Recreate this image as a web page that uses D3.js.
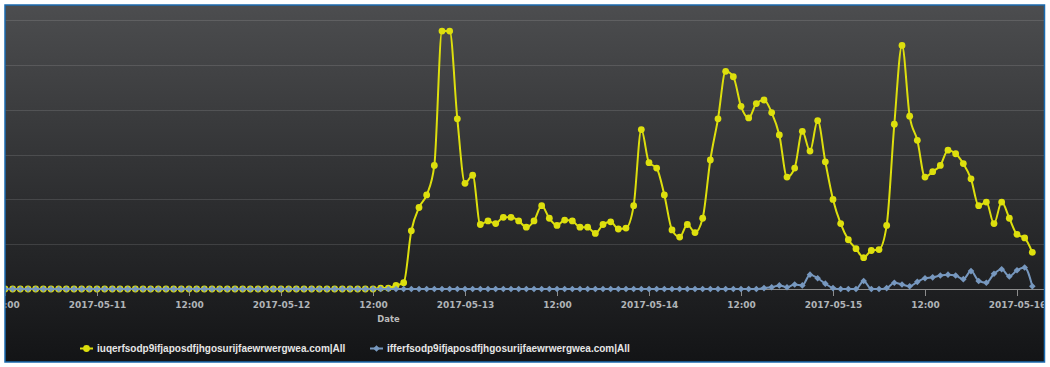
<!DOCTYPE html>
<html>
<head>
<meta charset="utf-8">
<script src="https://cdn.jsdelivr.net/npm/d3@7"></script>
<style>
  html, body { margin: 0; padding: 0; background: #ffffff; }
  svg { display: block; }
</style>
</head>
<body>
<svg id="chart" width="1050" height="367"></svg>
<script>
(function () {
  // hourly points, first one at 2017-05-10 12:00
  const START = Date.UTC(2017, 4, 10, 12);
  const END = Date.UTC(2017, 4, 16, 4);
  const HOUR = 3600 * 1000;

  const SERIES_NAMES = [
    "iuqerfsodp9ifjaposdfjhgosurijfaewrwergwea.com|All",
    "ifferfsodp9ifjaposdfjhgosurijfaewrwergwea.com|All",
  ];

  const yellowValues = [
    0, 0, 0, 0, 0, 0, 0, 0, 0, 0,
    0, 0, 0, 0, 0, 0, 0, 0, 0, 0,
    0, 0, 0, 0, 0, 0, 0, 0, 0, 0,
    0, 0, 0, 0, 0, 0, 0, 0, 0, 0,
    0, 0, 0, 0, 0, 0, 0, 0, 0,
    1, 1, 4, 7, 65, 91, 105, 138, 288, 288,
    190, 118, 127, 72, 76, 73, 80, 80, 76, 69,
    76, 93, 79, 71, 77, 76, 69, 69, 62, 72,
    75, 67, 68, 93, 178, 141, 135, 105, 66, 58,
    72, 63, 79, 144, 190, 243, 237, 204, 191, 207,
    211, 197, 172, 125, 135, 176, 154, 188, 142, 100,
    73, 55, 45, 35, 43, 44, 71, 184, 272, 193,
    166, 125, 131, 138, 155, 151, 140, 123, 93, 97,
    73, 97, 79, 61, 57, 41,
  ];

  const blueValues = [
    0, 0, 0, 0, 0, 0, 0, 0, 0, 0,
    0, 0, 0, 0, 0, 0, 0, 0, 0, 0,
    0, 0, 0, 0, 0, 0, 0, 0, 0, 0,
    0, 0, 0, 0, 0, 0, 0, 0, 0, 0,
    0, 0, 0, 0, 0, 0, 0, 0, 0, 0,
    0, 0, 0, 0, 0, 0, 0, 0, 0, 0,
    0, 0, 0, 0, 0, 0, 0, 0, 0, 0,
    0, 0, 0, 0, 0, 0, 0, 0, 0, 0,
    0, 0, 0, 0, 0, 0, 0, 0, 0, 0,
    0, 0, 0, 0, 0, 0, 0, 0, 0,
    1, 2, 4, 2, 5, 4, 16, 12, 6, 1,
    0, 0, 0, 9, 0, 0, 1, 7, 5, 3,
    8, 12, 13, 15, 16, 15, 11, 20, 9, 7,
    17, 22, 14, 21, 24, 3,
  ];

  const Y_TICKS = [0, 50, 100, 150, 200, 250, 300];

  const COLORS = ["#DDDF0D", "#7798BF"];

  const frame = { x: 5, y: 5, w: 1039.5, h: 357 };

  const svg = d3.select("#chart");
  const defs = svg.append("defs");

  const grad = defs
    .append("linearGradient")
    .attr("id", "bg")
    .attr("x1", 0)
    .attr("y1", 0)
    .attr("x2", 0)
    .attr("y2", 1);
  grad.append("stop").attr("offset", 0).attr("stop-color", "#4c4d4f");
  grad.append("stop").attr("offset", 1).attr("stop-color", "#131416");

  defs
    .append("clipPath")
    .attr("id", "frameClip")
    .append("rect")
    .attr("x", frame.x)
    .attr("y", frame.y)
    .attr("width", frame.w)
    .attr("height", frame.h);

  const x = d3
    .scaleUtc()
    .domain([START, END])
    .range([5, 5 + ((END - START) / HOUR) * (92 / 12)]);

  const y = d3.scaleLinear().domain([0, 300]).range([289, 20.3]);

  function toPoints(values) {
    return values.map((v, i) => ({ t: START + i * HOUR, v: v }));
  }

  const series = [toPoints(yellowValues), toPoints(blueValues)];

  const g = svg.append("g").attr("clip-path", "url(#frameClip)");

  g.append("rect")
    .attr("x", frame.x)
    .attr("y", frame.y)
    .attr("width", frame.w)
    .attr("height", frame.h)
    .attr("fill", "url(#bg)");

  // grid
  g.append("g")
    .selectAll("line")
    .data(Y_TICKS.slice(1))
    .join("line")
    .attr("x1", frame.x)
    .attr("x2", frame.x + frame.w)
    .attr("y1", (d) => Math.round(y(d)) + 0.5)
    .attr("y2", (d) => Math.round(y(d)) + 0.5)
    .attr("stroke", "rgba(255,255,255,0.12)")
    .attr("stroke-width", 1);

  // x axis
  const fmtDay = d3.utcFormat("%Y-%m-%d");
  const fmtHour = d3.utcFormat("%H:%M");
  const xAxis = d3
    .axisBottom(x)
    .ticks(d3.utcHour.every(12))
    .tickSize(7)
    .tickPadding(6)
    .tickFormat((d) => (d.getUTCHours() === 0 ? fmtDay(d) : fmtHour(d)));

  const axisG = g
    .append("g")
    .attr("transform", "translate(0," + y(0) + ")")
    .call(xAxis);
  axisG.select(".domain").remove();
  axisG.selectAll(".tick line").attr("stroke", "#8c8c8c");
  axisG
    .selectAll(".tick text")
    .attr("fill", "#b0b4b8")
    .attr("font-family", "DejaVu Sans, sans-serif")
    .attr("font-weight", "bold")
    .attr("font-size", "9px");

  g.append("line")
    .attr("x1", frame.x)
    .attr("x2", frame.x + frame.w)
    .attr("y1", y(0) + 0.5)
    .attr("y2", y(0) + 0.5)
    .attr("stroke", "#8c8c8c")
    .attr("stroke-width", 1);

  g.append("text")
    .attr("x", 388.5)
    .attr("y", 322)
    .attr("text-anchor", "middle")
    .attr("fill", "#bcbcbc")
    .attr("font-family", "DejaVu Sans, sans-serif")
    .attr("font-weight", "bold")
    .attr("font-size", "8.4px")
    .text("Date");

  // series
  const line = d3
    .line()
    .x((d) => x(d.t))
    .y((d) => y(d.v))
    .curve(d3.curveMonotoneX);

  const diamond = (r) =>
    "M0," + -r + "L" + r + ",0L0," + r + "L" + -r + ",0Z";

  series.forEach((pts, si) => {
    const sg = g.append("g");
    sg.append("path")
      .datum(pts)
      .attr("d", line)
      .attr("fill", "none")
      .attr("stroke", COLORS[si])
      .attr("stroke-width", 2)
      .attr("stroke-linejoin", "round");

    if (si === 0) {
      sg.selectAll("circle")
        .data(pts)
        .join("circle")
        .attr("cx", (d) => x(d.t))
        .attr("cy", (d) => y(d.v))
        .attr("r", 3.4)
        .attr("fill", COLORS[si]);
    } else {
      sg.selectAll("path.m")
        .data(pts)
        .join("path")
        .attr("class", "m")
        .attr("transform", (d) => "translate(" + x(d.t) + "," + y(d.v) + ")")
        .attr("d", diamond(3.3))
        .attr("fill", COLORS[si]);
    }
  });

  // legend
  const LEGEND_X = [80, 370];
  const legend = g.append("g").attr("transform", "translate(0,348.5)");
  SERIES_NAMES.forEach((name, i) => {
    const item = legend.append("g").attr("transform", "translate(" + LEGEND_X[i] + ",0)");
    item.append("line")
      .attr("x1", 0)
      .attr("x2", 13)
      .attr("stroke", COLORS[i])
      .attr("stroke-width", 2);
    if (i === 0) {
      item.append("circle").attr("cx", 6.5).attr("r", 3.4).attr("fill", COLORS[i]);
    } else {
      item.append("path")
        .attr("transform", "translate(6.5,0)")
        .attr("d", diamond(3.3))
        .attr("fill", COLORS[i]);
    }
    item.append("text")
      .attr("x", 17)
      .attr("y", 3.2)
      .attr("fill", "#e6e6e6")
      .attr("font-family", "Liberation Sans, Arial, sans-serif")
      .attr("font-weight", "bold")
      .attr("font-size", "10px")
      .text(name);
  });

  // outer frame
  svg.append("rect")
    .attr("x", frame.x)
    .attr("y", frame.y)
    .attr("width", frame.w)
    .attr("height", frame.h)
    .attr("fill", "none")
    .attr("stroke", "#1a6aae")
    .attr("stroke-width", 1.5);
})();
</script>
</body>
</html>
